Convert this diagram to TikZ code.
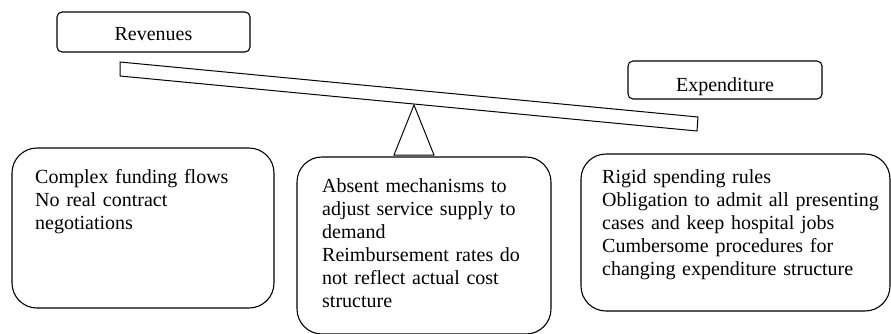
\documentclass[tikz,border=0pt]{standalone}
\usepackage{fontspec}
\setmainfont{Liberation Serif}
\begin{document}
\begin{tikzpicture}[x=1pt,y=-1pt,
  bigbox/.style={draw=black,line width=1.1pt,rounded corners=25pt,inner sep=0pt,fill=white},
  smallbox/.style={draw=black,line width=1.1pt,rounded corners=5pt,inner sep=0pt,fill=white},
  label/.style={inner sep=0pt,font=\fontsize{20}{23}\selectfont},
  body/.style={inner sep=0pt,font=\fontsize{20}{23}\selectfont,align=left,anchor=base west},
  solidpart/.style={draw=black,line width=1pt,fill=white,line join=miter}]
\useasboundingbox (0,0) rectangle (891,333);
% beam
\coordinate (b1) at (120,62);
\coordinate (b2) at (698,117);
\coordinate (b3) at (697,131);
\coordinate (b4) at (120,76);
\draw[solidpart] (b1) -- (b2) -- (b3) -- (b4) -- cycle;
% fulcrum
\coordinate (t1) at (414,105);
\coordinate (t2) at (394,155);
\coordinate (t3) at (434,155);
\draw[solidpart] (t1) -- (t2) -- (t3) -- cycle;
% top boxes
\node[smallbox,minimum width=193pt,minimum height=40pt] (rev) at (153.5,32) {};
\node[label,anchor=base] (revt) at (153.5,40.5) {Revenues};
\node[smallbox,minimum width=194pt,minimum height=38pt] (exp) at (725,80) {};
\node[label,anchor=base] (expt) at (725,91.5) {Expenditure};
% bottom boxes
\node[bigbox,minimum width=262pt,minimum height=160pt] (lbox) at (143,228) {};
\node[bigbox,minimum width=254pt,minimum height=177pt] (mbox) at (424,245.5) {};
\node[bigbox,minimum width=309pt,minimum height=157pt] (rbox) at (735.5,232.5) {};
\node[body,text width=240pt] (ltext) at (35,183) {Complex funding flows\\No real contract\\negotiations};
\node[body,text width=225pt] (mtext) at (322,192) {Absent mechanisms to\\adjust service supply to\\demand\\Reimbursement rates do\\not reflect actual cost\\structure};
\node[body,text width=285pt] (rtext) at (602,183) {Rigid spending rules\\Obligation to admit all presenting\\cases and keep hospital jobs\\Cumbersome procedures for\\changing expenditure structure};
\end{tikzpicture}
\end{document}
